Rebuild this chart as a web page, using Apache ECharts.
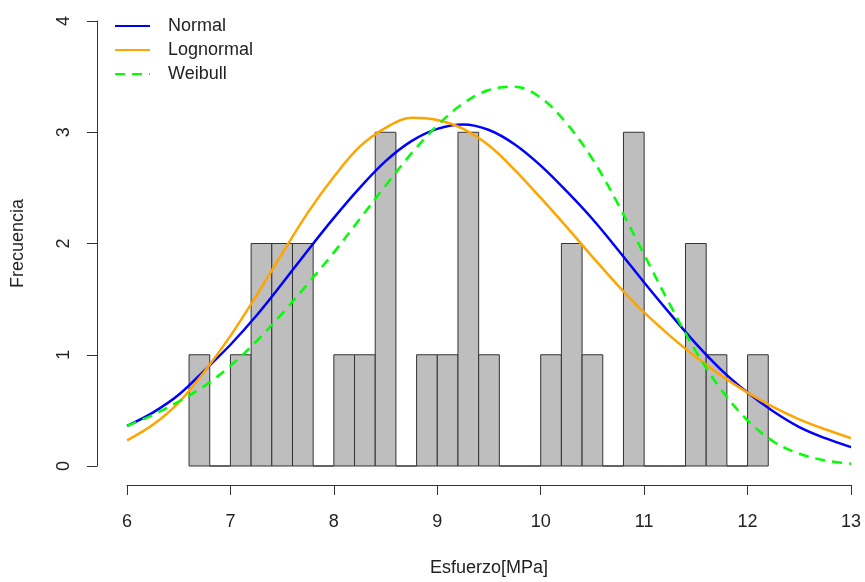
<!DOCTYPE html>
<html>
<head>
<meta charset="utf-8">
<title>Histograma Esfuerzo</title>
<script src="https://cdn.jsdelivr.net/npm/echarts@6/dist/echarts.min.js"></script>
<style>
	html, body { margin: 0; padding: 0; background: #fff; }
	#hist_chart { width: 865px; height: 582px; }
</style>
</head>
<body>
<div id="hist_chart"></div>
<script>
	// bordes de las clases del histograma y frecuencias
	var breaks = [6.6, 6.8, 7.0, 7.2, 7.4, 7.6, 7.8, 8.0, 8.2, 8.4, 8.6, 8.8, 9.0, 9.2, 9.4,
		9.6, 9.8, 10.0, 10.2, 10.4, 10.6, 10.8, 11.0, 11.2, 11.4, 11.6, 11.8, 12.0, 12.2];
	var counts = [1, 0, 1, 2, 2, 2, 0, 1, 1, 3, 0, 1, 1, 3, 1,
		0, 0, 1, 2, 1, 0, 3, 0, 0, 2, 1, 0, 1];

	// curvas ajustadas
	var curveX = [6.0, 6.25, 6.5, 6.75, 7.0, 7.25, 7.5, 7.75, 8.0, 8.25, 8.5, 8.75, 9.0, 9.25, 9.5,
		9.75, 10.0, 10.25, 10.5, 10.75, 11.0, 11.25, 11.5, 11.75, 12.0, 12.25, 12.5, 12.75, 13.0];
	var normalY = [0.36, 0.48, 0.64, 0.86, 1.09, 1.35, 1.64, 1.94, 2.23, 2.50, 2.74, 2.92, 3.03, 3.07, 3.02,
		2.89, 2.70, 2.47, 2.22, 1.94, 1.65, 1.37, 1.10, 0.86, 0.66, 0.49, 0.35, 0.25, 0.17];
	var lognormalY = [0.23, 0.37, 0.57, 0.85, 1.17, 1.53, 1.91, 2.28, 2.60, 2.87, 3.04, 3.13, 3.11, 3.03, 2.88,
		2.66, 2.41, 2.15, 1.88, 1.62, 1.38, 1.17, 0.98, 0.81, 0.66, 0.53, 0.42, 0.33, 0.25];
	var weibullY = [0.36, 0.46, 0.58, 0.72, 0.90, 1.12, 1.37, 1.64, 1.92, 2.22, 2.52, 2.81, 3.06, 3.26, 3.38,
		3.41, 3.31, 3.08, 2.76, 2.35, 1.90, 1.45, 1.03, 0.68, 0.41, 0.22, 0.11, 0.05, 0.02];

	var xTicks = ['6', '7', '8', '9', '10', '11', '12', '13'];
	var yTicks = ['0', '1', '2', '3', '4'];

	function pairs(ys) {
		var out = [];
		for (var i = 0; i < curveX.length; i++) {
			out.push([curveX[i], ys[i]]);
		}
		return out;
	}

	var bins = [];
	for (var i = 0; i < counts.length; i++) {
		bins.push([breaks[i], breaks[i + 1], counts[i]]);
	}

	var fontFam = 'Liberation Sans, Arial, sans-serif';

	var hist_chart = echarts.init(document.getElementById('hist_chart'));

	hist_chart.setOption({
		animation: false,
		textStyle: { fontFamily: fontFam },
		grid: {
			left: 127,
			right: 14,
			top: 21,
			bottom: 116
		},
		legend: {
			orient: 'vertical',
			left: 109,
			top: 12,
			itemWidth: 35,
			itemHeight: 14,
			itemGap: 6,
			data: ['Normal', 'Lognormal', 'Weibull'],
			itemStyle: { opacity: 0 },
			textStyle: {
				fontSize: 18,
				color: '#222',
				lineHeight: 16,
				padding: [0, 0, 0, 13]
			}
		},
		xAxis: {
			type: 'value',
			min: 6,
			max: 13,
			interval: 1,
			offset: 19,
			name: 'Esfuerzo[MPa]',
			nameLocation: 'middle',
			nameGap: 74,
			nameTextStyle: { fontSize: 18, color: '#222' },
			splitLine: { show: false },
			axisLine: { show: true, onZero: false, lineStyle: { color: '#333', width: 1 } },
			axisTick: { show: true, length: 10, lineStyle: { color: '#333' } },
			axisLabel: {
				fontSize: 18,
				color: '#222',
				margin: 28,
				formatter: function (v) { return xTicks[v - 6]; }
			}
		},
		yAxis: {
			type: 'value',
			min: 0,
			max: 4,
			interval: 1,
			offset: 30,
			name: 'Frecuencia',
			nameLocation: 'middle',
			nameGap: 70,
			nameTextStyle: { fontSize: 18, color: '#222' },
			splitLine: { show: false },
			axisLine: { show: true, onZero: false, lineStyle: { color: '#333', width: 1 } },
			axisTick: { show: true, length: 10, lineStyle: { color: '#333' } },
			axisLabel: {
				fontSize: 18,
				color: '#222',
				rotate: 90,
				margin: 24,
				formatter: function (v) { return yTicks[v]; }
			}
		},
		series: [{
			name: 'hist',
			type: 'custom',
			encode: { x: [0, 1], y: 2 },
			renderItem: function (params, api) {
				var p0 = api.coord([api.value(0), api.value(2)]);
				var p1 = api.coord([api.value(1), 0]);
				return {
					type: 'rect',
					shape: { x: p0[0], y: p0[1], width: p1[0] - p0[0], height: p1[1] - p0[1] },
					style: { fill: '#BEBEBE', stroke: '#333', lineWidth: 1 }
				};
			},
			data: bins,
			z: 1
		}, {
			name: 'Normal',
			type: 'line',
			smooth: 0.35,
			symbol: 'none',
			lineStyle: { color: '#0000FF', width: 2.5 },
			itemStyle: { color: '#0000FF' },
			data: pairs(normalY),
			z: 3
		}, {
			name: 'Lognormal',
			type: 'line',
			smooth: 0.35,
			symbol: 'none',
			lineStyle: { color: '#FFA500', width: 2.5 },
			itemStyle: { color: '#FFA500' },
			data: pairs(lognormalY),
			z: 3
		}, {
			name: 'Weibull',
			type: 'line',
			smooth: 0.35,
			symbol: 'none',
			lineStyle: { color: '#00FF00', width: 2.5, type: [10, 7] },
			itemStyle: { color: '#00FF00' },
			data: pairs(weibullY),
			z: 3
		}]
	});
</script>
</body>
</html>
